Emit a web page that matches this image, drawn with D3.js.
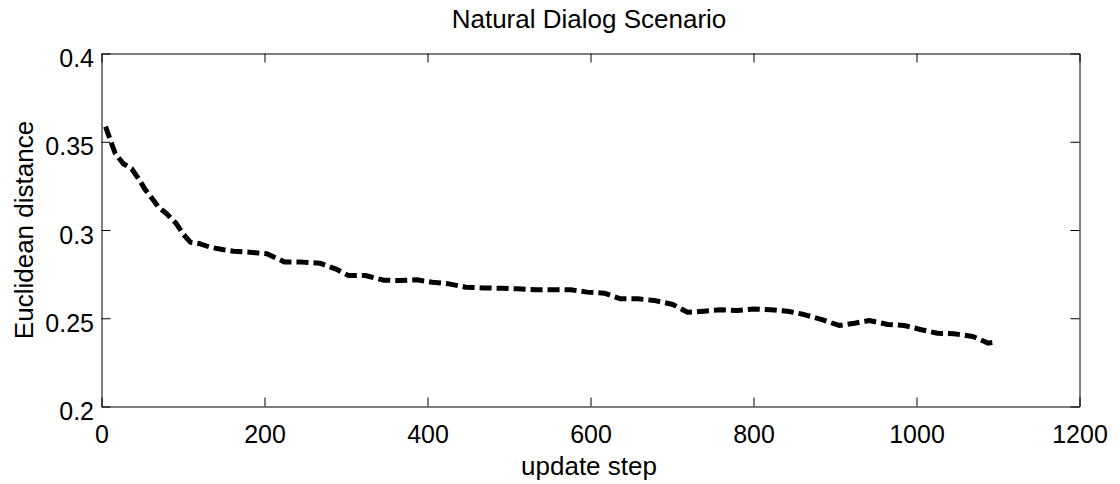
<!DOCTYPE html>
<html>
<head>
<meta charset="utf-8">
<script src="https://cdn.jsdelivr.net/npm/d3@7"></script>
<style>
  html, body { margin: 0; padding: 0; background: #fff; }
  svg { display: block; }
  text { font-family: "Liberation Sans", Arial, Helvetica, sans-serif; fill: #000; }
</style>
</head>
<body>
<svg id="chart" width="1120" height="484"></svg>
<script>
// ---- data ----
const steps = [5, 11, 17, 27, 37, 47, 53, 64, 70, 80, 92, 100, 109, 121, 133, 150, 162, 182, 203, 225,
  246, 268, 287, 303, 324, 346, 365, 387, 406, 426, 447, 469, 490, 510, 533, 553, 576, 596, 617, 637,
  658, 678, 701, 719, 739, 760, 780, 801, 821, 842, 862, 885, 905, 924, 942, 965, 985, 1006, 1026, 1046,
  1069, 1088, 1096];
const distance = [0.3586, 0.3507, 0.3432, 0.3375, 0.3347, 0.3280, 0.3233, 0.3167, 0.3129, 0.3092,
  0.3035, 0.2978, 0.2931, 0.2922, 0.2903, 0.2888, 0.2880, 0.2874, 0.2865, 0.2818,
  0.2818, 0.2812, 0.2780, 0.2742, 0.2742, 0.2716, 0.2714, 0.2718, 0.2704, 0.2695,
  0.2676, 0.2672, 0.2670, 0.2667, 0.2661, 0.2661, 0.2661, 0.2648, 0.2642, 0.2610,
  0.2610, 0.2601, 0.2578, 0.2534, 0.2540, 0.2548, 0.2544, 0.2553, 0.2548, 0.2540,
  0.2521, 0.2491, 0.2459, 0.2472, 0.2487, 0.2465, 0.2459, 0.2435, 0.2415, 0.2412,
  0.2397, 0.2359, 0.2364];
const xTicks = [0, 200, 400, 600, 800, 1000, 1200];
const yTicks = [0.2, 0.25, 0.3, 0.35, 0.4];
const xTickLabels = ["0", "200", "400", "600", "800", "1000", "1200"];
const yTickLabels = ["0.2", "0.25", "0.3", "0.35", "0.4"];
const title = "Natural Dialog Scenario";
const xLabel = "update step";
const yLabel = "Euclidean distance";

// ---- layout ----
const svg = d3.select("#chart");
const x = d3.scaleLinear().domain([0, 1200]).range([101.5, 1079.5]);
const y = d3.scaleLinear().domain([0.2, 0.4]).range([406.5, 53.5]);
const tickLen = 9;

function styleAxis(g) {
  g.selectAll("path.domain").attr("stroke", "#000").attr("stroke-width", 1);
  g.selectAll(".tick line").attr("stroke", "#000").attr("stroke-width", 1);
  g.attr("font-family", null).attr("font-size", null);
}

// bottom axis
const gB = svg.append("g").attr("transform", `translate(0,${y.range()[0]})`)
  .call(d3.axisBottom(x).tickValues(xTicks).tickFormat((d, i) => xTickLabels[i])
    .tickSizeInner(-tickLen).tickSizeOuter(0).tickPadding(19));
styleAxis(gB);
gB.selectAll("text").style("font-size", "25px");

// top axis (no labels)
const gT = svg.append("g").attr("transform", `translate(0,${y.range()[1]})`)
  .call(d3.axisTop(x).tickValues(xTicks).tickFormat("")
    .tickSizeInner(-tickLen).tickSizeOuter(0));
styleAxis(gT);

// left axis
const gL = svg.append("g").attr("transform", `translate(${x.range()[0]},0)`)
  .call(d3.axisLeft(y).tickValues(yTicks).tickFormat((d, i) => yTickLabels[i])
    .tickSizeInner(-tickLen).tickSizeOuter(0).tickPadding(7.5));
styleAxis(gL);
gL.selectAll("text").style("font-size", "25px").attr("dy", "0.52em");

// right axis (no labels)
const gR = svg.append("g").attr("transform", `translate(${x.range()[1]},0)`)
  .call(d3.axisRight(y).tickValues(yTicks).tickFormat("")
    .tickSizeInner(-tickLen).tickSizeOuter(0));
styleAxis(gR);

// line
const line = d3.line().x((d, i) => x(steps[i])).y(d => y(d));
svg.append("path")
  .datum(distance)
  .attr("d", line)
  .attr("fill", "none")
  .attr("stroke", "#000")
  .attr("stroke-width", 5)
  .attr("stroke-dasharray", "12,5")
  .attr("stroke-linejoin", "round");

// title and labels
svg.append("text").attr("x", 589).attr("y", 28)
  .attr("text-anchor", "middle").style("font-size", "26px").text(title);
svg.append("text").attr("x", 589).attr("y", 475)
  .attr("text-anchor", "middle").style("font-size", "26px").text(xLabel);
svg.append("text").attr("transform", `translate(33,${(y.range()[0] + y.range()[1]) / 2}) rotate(-90)`)
  .attr("text-anchor", "middle").style("font-size", "26px").text(yLabel);
</script>
</body>
</html>
